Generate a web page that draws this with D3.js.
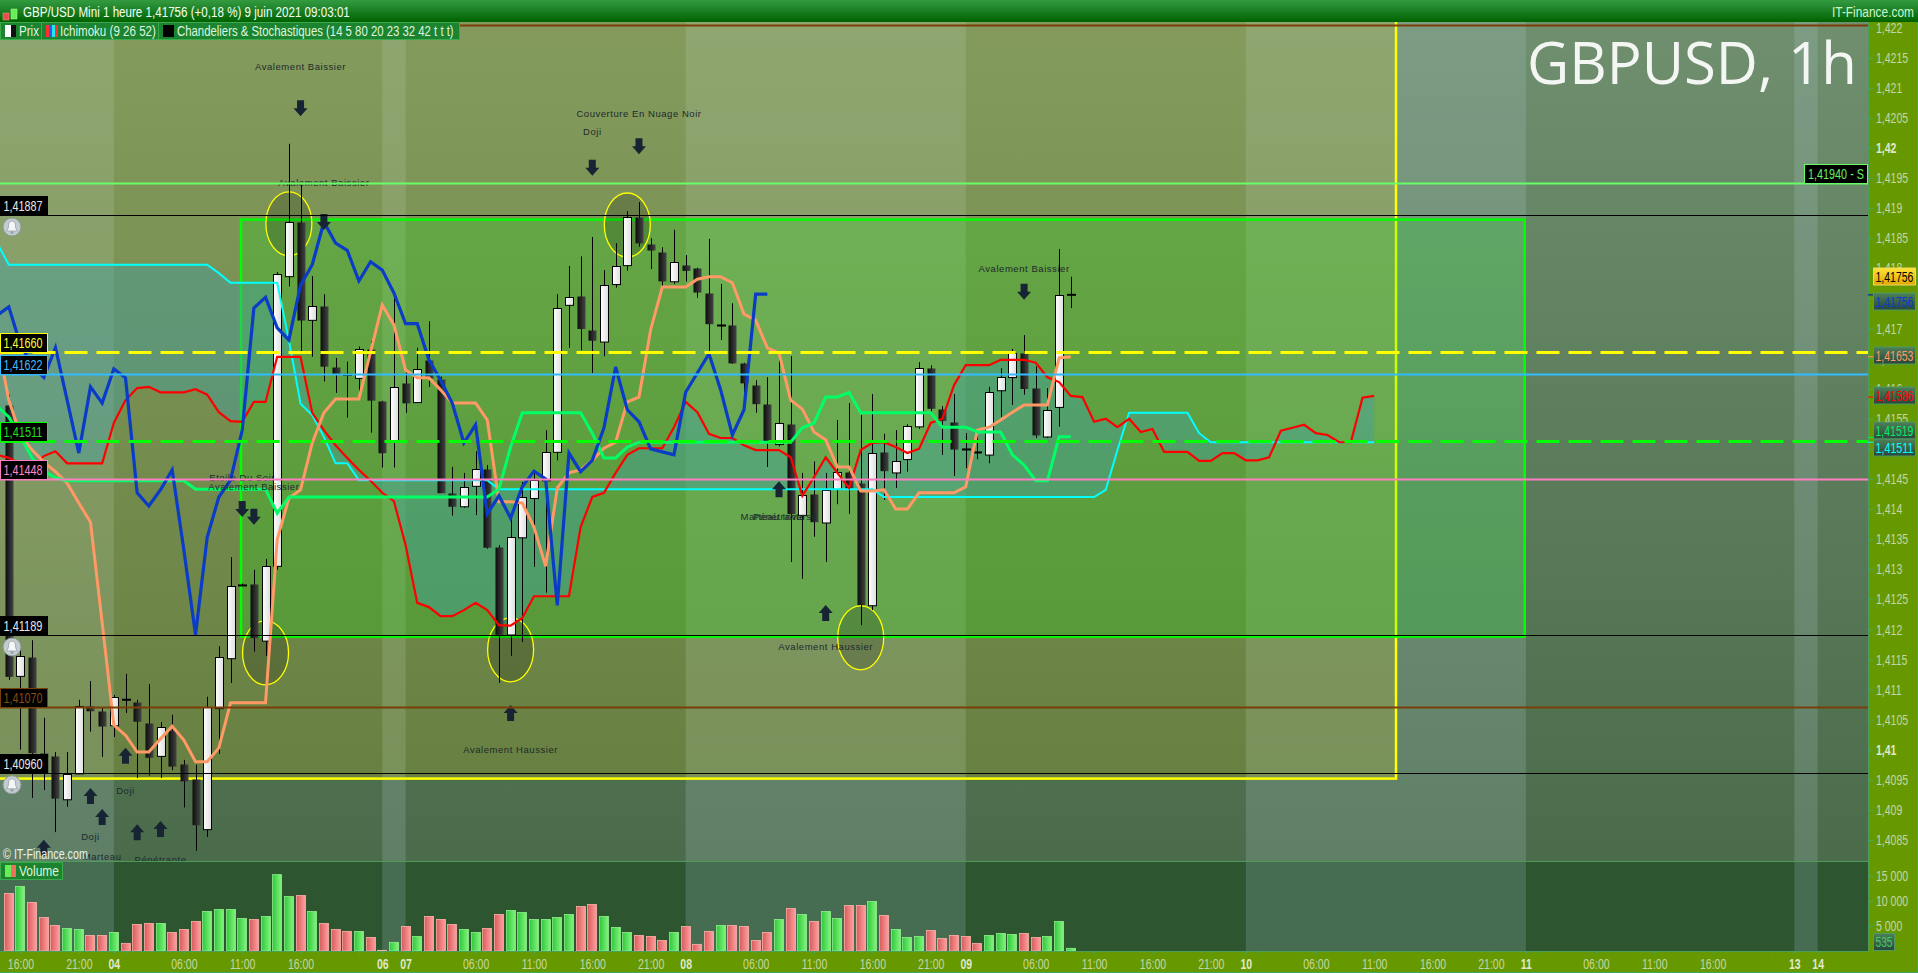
<!DOCTYPE html>
<html><head><meta charset="utf-8"><title>GBPUSD, 1h</title>
<script src="https://cdn.jsdelivr.net/npm/d3@7"></script>
<style>html,body{margin:0;padding:0;background:#669900;overflow:hidden}svg{display:block}text{white-space:pre}</style>
</head><body><svg id="c" width="1918" height="973"></svg>
<script>
// ---------- data (prices expressed in 1e-5 points, i.e. 141887 = 1,41887) ----------
const candleOpen=[141573,141123,141154,140995,140990,140918,140961,141073,141065,141041,141085,141079,141044,140990,141033,140976,140951,140868,141069,141152,141275,141275,141181,141306,141787,141877,141714,141737,141636,141624,141618,141666,141580,141512,141610,141578,141648,141616,141427,141405,141438,141466,141337,141191,141353,141418,141448,141495,141739,141754,141698,141678,141774,141806,141886,141841,141827,141779,141806,141801,141759,141706,141706,141643,141606,141575,141508,141541,141390,141425,141378,141434,141462,141443,141240,141495,141461,141483,141538,141634,141566,141545,141500,141495,141491,141598,141619,141659,141601,141521,141570,141756];
const candleHigh=[141590,141174,141182,141053,140996,140996,141083,141114,141071,141091,141126,141083,141109,141046,141058,140983,140975,141088,141172,141320,141276,141299,141317,141794,142007,141939,141787,141757,141651,141645,141670,141679,141580,141756,141631,141668,141712,141620,141470,141460,141496,141473,141340,141395,141445,141465,141531,141757,141804,141820,141852,141797,141842,141895,141910,141850,141835,141864,141822,141801,141849,141774,141742,141643,141614,141619,141656,141654,141460,141479,141460,141548,141576,141556,141591,141525,141531,141541,141644,141639,141571,141591,141526,141526,141603,141634,141666,141689,141637,141601,141832,141786];
const candleLow=[141116,141000,140920,140933,140863,140905,140961,141030,140988,141021,141061,140953,140957,140953,140966,140904,140832,140855,140993,141111,141272,141163,141156,141299,141770,141661,141653,141612,141593,141552,141590,141527,141469,141469,141560,141578,141603,141427,141389,141402,141390,141334,141111,141156,141179,141304,141261,141481,141668,141664,141626,141654,141768,141796,141836,141799,141771,141774,141778,141751,141659,141681,141641,141593,141560,141470,141504,141312,141284,141354,141312,141408,141392,141207,141232,141415,141435,141462,141533,141562,141490,141455,141468,141483,141476,141553,141573,141590,141518,141518,141537,141734];
const candleClose=[141122,141156,140995,140961,140920,140960,141073,141065,141040,141088,141083,141047,140987,141038,140973,140948,140875,141071,141154,141272,141273,141186,141305,141791,141877,141714,141737,141637,141624,141623,141666,141581,141494,141603,141577,141633,141618,141427,141405,141437,141466,141336,141192,141353,141420,141448,141495,141734,141752,141700,141681,141772,141804,141886,141843,141831,141779,141811,141797,141761,141708,141705,141643,141610,141575,141512,141543,141392,141423,141379,141432,141462,141435,141241,141493,141464,141480,141538,141635,141567,141547,141500,141499,141494,141595,141620,141659,141600,141523,141565,141756,141756];
// Ichimoku series, the first value of each belongs to bar -1
const senkouA=[141490,141485,141475,141468,141488,141496,141476,141476,141476,141476,141543,141581,141601,141603,141594,141594,141594,141599,141590,141561,141546,141545,141578,141578,141653,141653,141653,141560,141531,141506,141485,141465,141447,141427,141413,141340,141244,141237,141222,141222,141232,141244,141232,141207,141206,141219,141255,141255,141255,141255,141370,141420,141427,141460,141490,141501,141501,141501,141536,141578,141561,141525,141518,141518,141506,141498,141498,141498,141486,141422,141453,141486,141460,141435,141498,141510,141511,141503,141493,141500,141543,141550,141606,141639,141639,141639,141648,141648,141648,141643,141619,141611,141588,141586,141545,141550,141536,141550,141528,141533,141495,141495,141495,141480,141480,141493,141493,141481,141481,141486,141530,141535,141540,141526,141523,141511,141511,141585,141588];
const senkouB=[141842,141806,141806,141806,141806,141806,141806,141806,141806,141806,141806,141806,141806,141806,141806,141806,141806,141806,141806,141792,141776,141776,141776,141776,141776,141681,141575,141556,141520,141476,141476,141448,141448,141448,141448,141448,141448,141448,141448,141448,141448,141448,141448,141433,141433,141433,141433,141433,141433,141433,141433,141433,141433,141433,141433,141433,141433,141433,141433,141433,141433,141433,141433,141433,141433,141433,141433,141433,141433,141433,141433,141433,141433,141433,141433,141433,141420,141420,141420,141420,141420,141420,141420,141420,141420,141420,141420,141420,141420,141420,141420,141420,141420,141420,141420,141432,141498,141560,141560,141560,141560,141560,141560,141526,141511,141511,141511,141511,141511,141511,141511,141511,141511,141511,141511,141511,141511,141511,141511];
const tenkan=[141681,141581,141523,141498,141478,141462,141443,141410,141378,141211,141041,141024,140996,140996,141018,141039,141016,140980,140980,141003,141078,141078,141078,141078,141349,141418,141432,141510,141560,141583,141583,141583,141661,141739,141706,141631,141618,141618,141598,141576,141576,141576,141548,141412,141412,141410,141370,141305,141435,141460,141465,141481,141501,141511,141578,141586,141698,141769,141769,141769,141782,141786,141786,141776,141724,141714,141668,141659,141581,141566,141528,141515,141470,141470,141430,141430,141432,141400,141400,141427,141427,141427,141427,141437,141531,141536,141548,141561,141573,141573,141573,141651,141653];
const kijun=[141571,141553,141520,141485,141463,141452,141447,141447,141447,141447,141447,141447,141447,141447,141447,141447,141447,141433,141433,141433,141433,141433,141433,141433,141393,141420,141420,141420,141420,141420,141420,141420,141420,141420,141420,141420,141420,141420,141420,141420,141420,141420,141420,141433,141503,141560,141560,141560,141560,141560,141560,141526,141485,141485,141503,141511,141511,141511,141511,141511,141511,141511,141511,141511,141511,141511,141511,141511,141511,141535,141543,141586,141586,141594,141560,141560,141560,141560,141560,141560,141560,141536,141536,141536,141528,141528,141528,141490,141473,141447,141447,141520,141520];
const chikou=[141722,141736,141673,141639,141619,141668,141581,141493,141603,141576,141633,141618,141427,141405,141432,141465,141332,141191,141353,141420,141448,141531,141734,141752,141701,141681,141772,141806,141877,141842,141830,141779,141811,141797,141759,141708,141708,141648,141614,141576,141510,141540,141392,141422,141385,141437,141463,141450,141240,141493,141462,141481,141535,141636,141565,141545,141500,141495,141490,141594,141626,141658,141598,141523,141565,141757,141757];
const volumes=[11490,12880,9690,6710,5110,4520,4320,3120,3120,3720,1530,5310,5510,5510,3720,4320,5910,7900,8300,8300,6510,6310,6910,15270,10890,11090,7900,5510,4320,3920,3920,2720,130,1730,4910,2920,6910,6310,5310,4320,3720,4520,7300,8100,7700,6310,6310,6710,7300,8900,9300,6910,4710,3720,3120,2920,2120,3720,4910,1330,3920,5110,5110,4910,2120,3720,6310,8500,7300,5910,7900,6510,9100,9100,9890,7100,4320,2720,2920,4120,2520,3120,2920,1530,3120,3520,3320,3520,2720,2920,5910,535];
const volumeUp=[0,1,0,0,0,1,1,0,0,1,0,0,0,1,0,0,0,1,1,1,1,0,1,1,1,0,1,0,0,0,1,0,0,1,0,1,0,0,0,1,1,0,0,1,1,1,1,1,1,0,0,1,1,1,0,0,0,1,0,0,0,1,0,0,0,0,1,0,1,0,1,1,0,0,1,0,1,1,1,0,0,0,0,0,1,1,1,0,0,1,1,1];
const priceTicks=[1.422,1.4215,1.421,1.4205,1.42,1.4195,1.419,1.4185,1.418,1.4175,1.417,1.4165,1.416,1.4155,1.415,1.4145,1.414,1.4135,1.413,1.4125,1.412,1.4115,1.411,1.4105,1.41,1.4095,1.409,1.4085];
const volumeTicks=[5000,10000,15000];
const timeTickBars=[1,6,9,15,20,25,32,34,40,45,50,55,58,64,69,74,79,82,88,93,98,103,106,112,117,122,127,130,136,141,146,153,155];
const timeTickLabels=["16:00","21:00","04","06:00","11:00","16:00","06","07","06:00","11:00","16:00","21:00","08","06:00","11:00","16:00","21:00","09","06:00","11:00","16:00","21:00","10","06:00","11:00","16:00","21:00","11","06:00","11:00","16:00","13","14"];
const unlabelledTickBars=[10,30,35,59,83,107,131,151,156];
const dayLabels=["04","06","07","08","09","10","11","13","14"];
const oddDayBands=[[-2,9],[32,34],[58,82],[106,130],[153,155]];
const levelValues=[1.41887,1.41189,1.40960,1.41070,1.41660,1.41622,1.41511,1.41448,1.41940,1.42202];
const levelColors=["#000000","#000000","#000000","#7a3e08","#ffff00","#33bbff","#00ff00","#ff7fc0","#66ff66","#7a3e08"];
const levelDashed=[0,0,0,0,1,0,1,0,0,0];
const levelLabels=["1,41887","1,41189","1,40960","1,41070","1,41660","1,41622","1,41511","1,41448","",""];
const levelTextColors=["#e8e8e8","#e8e8e8","#e8e8e8","#8a4a10","#ffff33","#44bbff","#22dd22","#ff88c8","",""];
const lastValues=[1.41756,1.41756,1.41653,1.41586,1.41519,1.41511];
const lastColors=["#000000","#0a3cc8","#ff9966","#ff0000","#00ee66","#00ffff"];
const patternNames=["Avalement Baissier","Avalement Baissier","Couverture En Nuage Noir","Doji","Etoile Du Soir","Avalement Baissier","Avalement Baissier","Marteau Inversé","Pénétrante","Avalement Haussier","Avalement Haussier","Doji","Doji","Marteau","Pénétrante"];
const patternBars=[25,27,54,50,20,21,87,66,66,43,70,10,7,8,13];
const patternPrices=[142136,141942,142057,142028,141452,141437,141799,141388,141388,141001,141171,140933,140855,140823,140817];
const downArrowBars=[25,27,50,54,20,21,87];
const downArrowPrices=[142066,141877,141967,142003,141400,141387,141761];
const upArrowBars=[3,7,8,10,11,13,43,66,70];
const upArrowPrices=[140837,140923,140888,140990,140863,140868,141061,141433,141227];
const circledBars=[24,53,22,43,73];
const circledPrices=[141874,141872,141161,141166,141186];
const alertPrices=[1.41887,1.41189,1.40960];

// ---------- geometry ----------
const W=1918,H=973,PR=1868,PT=22,PB=861,VB=951;
const x=d3.scaleLinear().domain([0,130]).range([8.8,8.8+11.67*130]);
const y=d3.scaleLinear().domain([1.41,1.42]).range([749.7,148]);
const yp=p=>y(p/1e5);
const yv=d3.scaleLinear().domain([0,15000]).range([VB,876]);
const svg=d3.select("#c");
const defs=svg.append("defs");
function grad(id,stops,horizontal){
  const g=defs.append("linearGradient").attr("id",id).attr("x1",0).attr("y1",0).attr("x2",horizontal?1:0).attr("y2",horizontal?0:1);
  stops.forEach(s=>g.append("stop").attr("offset",s[0]).attr("stop-color",s[1]));
}
// the installed sans is wider than the original face: squeeze horizontally with a real transform, so boxes stay true
function squeeze(el,k){
  const x0=+el.getAttribute("x")||0;
  el.setAttribute("x",x0/k);
  el.setAttribute("transform",`scale(${k},1)`);
}
const narrow=(sel,k)=>sel.each(function(){squeeze(this,k)});
const fit=(sel,len)=>sel.each(function(){const L=this.getComputedTextLength();if(L>0)squeeze(this,len/L)});
grad("plotBg",[[0,"#6f8f6e"],[1,"#4a6c4a"]]);
grad("titleBg",[[0,"#339a3f"],[.18,"#2b9138"],[1,"#006200"]]);
grad("blk",[[0,"#0c0c0c"],[1,"#454545"]],true);
grad("wht",[[0,"#ffffff"],[1,"#dedede"]],true);
grad("volR",[[0,"#d85c5c"],[1,"#ff9f9f"]],true);
grad("volG",[[0,"#30c83e"],[1,"#84f47c"]],true);
grad("lastY",[[0,"#ffe23a"],[1,"#e0a800"]]);
grad("lastD",[[0,"#4e8058"],[1,"#28463a"]]);
defs.append("clipPath").attr("id","plotClip").append("rect").attr("x",0).attr("y",PT).attr("width",PR).attr("height",PB-PT);
defs.append("clipPath").attr("id","allClip").append("rect").attr("x",0).attr("y",PT).attr("width",PR).attr("height",VB-PT);

// base
svg.append("rect").attr("width",W).attr("height",H).attr("fill","#669900");
svg.append("rect").attr("x",0).attr("y",PT).attr("width",PR).attr("height",PB-PT).attr("fill","url(#plotBg)");
svg.append("rect").attr("x",0).attr("y",PB).attr("width",PR).attr("height",VB-PB).attr("fill","#2c5530");
// alternating day bands
svg.append("g").selectAll("rect").data(oddDayBands).join("rect")
  .attr("x",d=>Math.max(0,x(d[0]))).attr("width",d=>x(d[1])-Math.max(0,x(d[0])))
  .attr("y",PT).attr("height",VB-PT).attr("fill","#b9d6e6").attr("fill-opacity",.19);
svg.append("line").attr("x1",0).attr("x2",PR).attr("y1",PB+.5).attr("y2",PB+.5).attr("stroke","#4d9a5a");

// drawn zones
const plot=svg.append("g").attr("clip-path","url(#plotClip)");
const yzTop=y(1.4224),yzBot=y(1.40952),yzR=x(118.87);
plot.append("rect").attr("x",-5).attr("y",yzTop-6).attr("width",yzR+5).attr("height",yzBot-yzTop+6).attr("fill","#ffe600").attr("fill-opacity",.15).attr("stroke","#ffff00").attr("stroke-width",2.5);
const gzL=x(19.9),gzR=x(129.9),gzT=y(1.41881),gzB=y(1.41188);
plot.append("rect").attr("x",gzL).attr("y",gzT).attr("width",gzR-gzL).attr("height",gzB-gzT).attr("fill","#00f000").attr("fill-opacity",.19).attr("stroke","#00ff00").attr("stroke-width",2.5);

// cloud
const cloud=d3.area().x((d,i)=>x(i-1)).y0(d=>yp(d)).y1((d,i)=>yp(senkouB[i]));
plot.append("path").datum(senkouA).attr("d",cloud).attr("fill","#40a0a8").attr("fill-opacity",.42);

// ellipses
plot.append("g").selectAll("ellipse").data(circledBars).join("ellipse")
 .attr("cx",d=>x(d)).attr("cy",(d,i)=>yp(circledPrices[i])).attr("rx",23).attr("ry",32)
 .attr("fill","#000").attr("fill-opacity",.16).attr("stroke","#ffff00").attr("stroke-width",1.3);

// candles
const cg=plot.append("g");
const candles=d3.range(candleOpen.length);
cg.selectAll("line").data(candles).join("line")
 .attr("x1",i=>Math.round(x(i))+.5).attr("x2",i=>Math.round(x(i))+.5)
 .attr("y1",i=>yp(candleHigh[i])).attr("y2",i=>yp(candleLow[i])).attr("stroke","#000");
cg.selectAll("rect").data(candles.filter(i=>Math.abs(candleOpen[i]-candleClose[i])>2)).join("rect")
 .attr("x",i=>Math.round(x(i))-4+.5).attr("width",8)
 .attr("y",i=>Math.round(yp(Math.max(candleOpen[i],candleClose[i])))+.5)
 .attr("height",i=>Math.abs(yp(candleOpen[i])-yp(candleClose[i])))
 .attr("fill",i=>candleClose[i]>candleOpen[i]?"url(#wht)":"url(#blk)")
 .attr("stroke",i=>candleClose[i]>candleOpen[i]?"#000":"none");
cg.selectAll("path").data(candles.filter(i=>Math.abs(candleOpen[i]-candleClose[i])<=2)).join("path")
 .attr("d",i=>`M${Math.round(x(i))-4},${yp(candleClose[i])}h9`).attr("stroke","#000").attr("stroke-width",2);

// ichimoku
const lineGen=d3.line().x((d,i)=>x(i-1)).y(d=>yp(d));
[[senkouB,"#00ffff",2],[senkouA,"#ff0000",2.2],[tenkan,"#ff9966",3],[kijun,"#00ff66",3],[chikou,"#0a3cc8",3.2]].forEach(s=>{
  plot.append("path").datum(s[0]).attr("d",lineGen).attr("fill","none").attr("stroke",s[1]).attr("stroke-width",s[2]).attr("stroke-linejoin","miter");
});

// arrows
function arrow(sel,dir){
  sel.attr("fill","#172434").attr("d",dir>0?"M0,-8 L7,0 L3.5,0 L3.5,8 L-3.5,8 L-3.5,0 L-7,0 Z":"M0,8 L7,0 L3.5,0 L3.5,-8 L-3.5,-8 L-3.5,0 L-7,0 Z");
}
plot.append("g").selectAll("path").data(downArrowBars).join("path").attr("transform",(d,i)=>`translate(${x(d)},${yp(downArrowPrices[i])})`).call(arrow,-1);
plot.append("g").selectAll("path").data(upArrowBars).join("path").attr("transform",(d,i)=>`translate(${x(d)},${yp(upArrowPrices[i])})`).call(arrow,1);
// pattern names
plot.append("g").selectAll("text").data(patternNames).join("text")
 .attr("x",(d,i)=>x(patternBars[i])).attr("y",(d,i)=>yp(patternPrices[i])+3.5).attr("text-anchor","middle")
 .attr("font-family","'Liberation Sans',sans-serif").attr("font-size",9.5).attr("letter-spacing",.55).attr("fill","#1c2a2c").text(d=>d);

// levels
const crisp=v=>Math.round(y(v))+.5;
const lv=svg.append("g").attr("clip-path","url(#allClip)");
lv.selectAll("line").data(levelValues).join("line")
 .attr("x1",0).attr("x2",PR)
 .attr("y1",d=>crisp(d)-1).attr("y2",d=>crisp(d)-1)
 .attr("stroke",(d,i)=>levelColors[i])
 .attr("stroke-width",(d,i)=>levelColors[i]==="#000000"?1:(levelDashed[i]?3:2))
 .attr("stroke-dasharray",(d,i)=>levelDashed[i]?"23 9":null)
 .attr("stroke-dashoffset",-.5);
// level labels
const axisFont="'Liberation Sans',sans-serif";
const llg=svg.append("g");
levelLabels.forEach((t,i)=>{
  if(!t) return;
  const yy=Math.round(y(levelValues[i]));
  llg.append("rect").attr("x",.5).attr("y",yy-19.5).attr("width",47).attr("height",19).attr("fill","#000").attr("stroke",levelColors[i]==="#000000"?"#000":levelColors[i]);
  llg.append("text").attr("x",3.5).attr("y",yy-4.5).attr("font-family",axisFont).attr("font-size",15).attr("fill",levelTextColors[i]).text(t).call(fit,39);
});
// support label
const sY=Math.round(y(1.4194));
llg.append("rect").attr("x",1804.5).attr("y",sY-19.5).attr("width",63).attr("height",19).attr("fill","#000").attr("stroke","#66ff66");
llg.append("text").attr("x",1808).attr("y",sY-4.5).attr("font-family",axisFont).attr("font-size",15).attr("fill","#66ee66").text("1,41940 - S").call(fit,56);
// alerts
const bells=svg.append("g").selectAll("g").data(alertPrices).join("g").attr("transform",d=>`translate(12,${y(d)+11})`);
bells.append("circle").attr("r",9).attr("fill","#c4ccd0").attr("stroke","#8a9a9a");
bells.append("path").attr("d","M0,-6 C3,-6 3.5,-3 3.5,-1 C3.5,2 5,3 5.5,4 L-5.5,4 C-5,3 -3.5,2 -3.5,-1 C-3.5,-3 -3,-6 0,-6 Z").attr("fill","#f4f6f8").attr("stroke","#8c9aa2").attr("stroke-width",.7);
bells.append("circle").attr("cy",5.5).attr("r",1.6).attr("fill","#9aa6aa");

// volume
const vg=svg.append("g");
vg.selectAll("rect").data(volumes).join("rect")
 .attr("x",(d,i)=>Math.round(x(i))-4.5).attr("width",9)
 .attr("y",d=>yv(d)).attr("height",d=>VB-yv(d))
 .attr("fill",(d,i)=>volumeUp[i]?"url(#volG)":"url(#volR)")
 .attr("stroke",(d,i)=>volumeUp[i]?"#8ef08a":"#ffb0a8").attr("stroke-width",.8);

// axes panels
svg.append("rect").attr("x",PR).attr("y",PT).attr("width",W-PR).attr("height",H-PT).attr("fill","#669900");
svg.append("rect").attr("x",0).attr("y",VB+.5).attr("width",W).attr("height",H-VB).attr("fill","#669900");
svg.append("line").attr("x1",0).attr("x2",PR).attr("y1",VB+.5).attr("y2",VB+.5).attr("stroke","#4aa05a");
svg.append("line").attr("x1",PR+.5).attr("x2",PR+.5).attr("y1",PT).attr("y2",VB).attr("stroke","#4aa05a");
svg.append("line").attr("x1",0).attr("x2",W).attr("y1",H-.5).attr("y2",H-.5).attr("stroke","#3fa856");
svg.append("line").attr("x1",W-.5).attr("x2",W-.5).attr("y1",PT).attr("y2",H).attr("stroke","#3fa856");

function styleAxis(g){
  g.select(".domain").remove();
  g.selectAll("line").attr("stroke","#44a85c");
  g.selectAll("text").attr("font-family",axisFont).attr("font-size",14.5).attr("fill","#c4d6a8");
}
const ax=svg.append("g").attr("transform",`translate(${PR},0)`).call(
  d3.axisRight(y).tickValues(priceTicks).tickSize(5).tickPadding(3).tickFormat(d=>String(d).replace(".",","))).call(styleAxis);
ax.selectAll("text").filter(d=>d===1.42||d===1.41).attr("font-weight","bold").attr("fill","#dfe8cc");
ax.selectAll("text").call(narrow,.725);
const av=svg.append("g").attr("transform",`translate(${PR},0)`).call(
  d3.axisRight(yv).tickValues(volumeTicks).tickSize(5).tickPadding(3).tickFormat(d=>d3.format(",")(d).replace(",", " "))).call(styleAxis);
av.selectAll("text").call(narrow,.725);
const bx=svg.append("g").attr("transform",`translate(0,${VB})`).call(
  d3.axisBottom(x).tickValues(timeTickBars).tickSize(3).tickPadding(3).tickFormat((d,i)=>timeTickLabels[i])).call(styleAxis);
bx.selectAll("text").attr("dy","0.82em").filter(function(){return dayLabels.includes(this.textContent)}).attr("font-weight","bold").attr("fill","#dfe8cc");
bx.selectAll("text").call(narrow,.725);
svg.append("g").attr("transform",`translate(0,${VB})`).call(
  d3.axisBottom(x).tickValues(unlabelledTickBars).tickSize(3).tickFormat("")).call(styleAxis);

// last value boxes
const lb=svg.append("g");
lastValues.forEach((v,i)=>{
  const yy=[277,302,356,396,431,448][i];
  const g=lb.append("g");
  g.append("line").attr("x1",PR).attr("x2",PR+5).attr("y1",y(v)).attr("y2",y(v)).attr("stroke",i==0?"#222":lastColors[i]);
  g.append("rect").attr("x",1873.5).attr("y",yy-9).attr("width",42).attr("height",17).attr("fill",i==0?"url(#lastY)":"url(#lastD)").attr("stroke",i==0?"#f0d860":"#4f9a62");
  g.append("text").attr("x",1875.5).attr("y",yy+5).attr("font-family",axisFont).attr("font-size",15).attr("fill",lastColors[i]).text(String(v.toFixed(5)).replace(".",",")).call(fit,38);
});
lb.append("rect").attr("x",1873.5).attr("y",933.5).attr("width",21).attr("height",17).attr("fill","url(#lastD)").attr("stroke","#4f9a62");
lb.append("text").attr("x",1875.5).attr("y",947).attr("font-family",axisFont).attr("font-size",15).attr("fill","#44cc66").text("535").call(fit,17);

// title bar
svg.append("rect").attr("width",W).attr("height",PT).attr("fill","url(#titleBg)");
svg.append("rect").attr("x",3).attr("y",13).attr("width",6).attr("height",7).attr("fill","#e84c4c").attr("stroke","#ff9b8a").attr("stroke-width",.5);
svg.append("rect").attr("x",11).attr("y",9).attr("width",6).attr("height",10).attr("fill","#66ee55").attr("stroke","#b0f8a0").attr("stroke-width",.5);
svg.append("text").attr("x",23).attr("y",17.5).attr("font-family",axisFont).attr("font-size",15.5).attr("fill","#f4fff4").text("GBP/USD Mini 1 heure 1,41756 (+0,18 %) 9 juin 2021 09:03:01").call(fit,327);
svg.append("text").attr("x",1832).attr("y",17.5).attr("font-family",axisFont).attr("font-size",14.5).attr("fill","#cdf5cd").text("IT-Finance.com").call(fit,82);

// legend
const legend=svg.append("g");
[[0,41],[41,117],[158,301]].forEach(b=>legend.append("rect").attr("x",b[0]+.5).attr("y",22.5).attr("width",b[1]).attr("height",17).attr("fill","#1c8430").attr("stroke","#3caa4c"));
legend.append("rect").attr("x",5).attr("y",25).attr("width",6).attr("height",12).attr("fill","#fff");
legend.append("rect").attr("x",11).attr("y",25).attr("width",5).attr("height",12).attr("fill","#111");
[["#ff3030",46],["#2a5ae8",49],["#20e8e8",52],["#ff3030",55]].forEach(s=>legend.append("rect").attr("x",s[1]).attr("y",25).attr("width",3).attr("height",12).attr("fill",s[0]));
legend.append("rect").attr("x",163).attr("y",25).attr("width",11).attr("height",12).attr("fill","#000");
[["Prix",19,20],["Ichimoku (9 26 52)",60,96],["Chandeliers & Stochastiques (14 5 80 20 23 32 42 t t t)",177,277]].forEach(t=>
  legend.append("text").attr("x",t[1]).attr("y",36.5).attr("font-family",axisFont).attr("font-size",14.5).attr("fill","#dff5df").text(t[0]).call(fit,t[2]));
svg.append("rect").attr("x",.5).attr("y",862.5).attr("width",62).attr("height",17).attr("fill","#1c8430").attr("stroke","#3caa4c");
svg.append("rect").attr("x",5).attr("y",865).attr("width",6).attr("height",12).attr("fill","#66ee55");
svg.append("rect").attr("x",11).attr("y",865).attr("width",5).attr("height",12).attr("fill","#f07060");
svg.append("text").attr("x",19).attr("y",876.5).attr("font-family",axisFont).attr("font-size",14.5).attr("fill","#dff5df").text("Volume").call(fit,40);
svg.append("text").attr("x",3).attr("y",859).attr("font-family",axisFont).attr("font-size",14).attr("fill","#eaf2ea").text("© IT-Finance.com").call(fit,85);
// big title
svg.append("text").attr("x",1527).attr("y",84).attr("font-family","'Open Sans',sans-serif").attr("font-size",59).attr("fill","#f4f6f4").text("GBPUSD, 1h").call(fit,330);
</script></body></html>
